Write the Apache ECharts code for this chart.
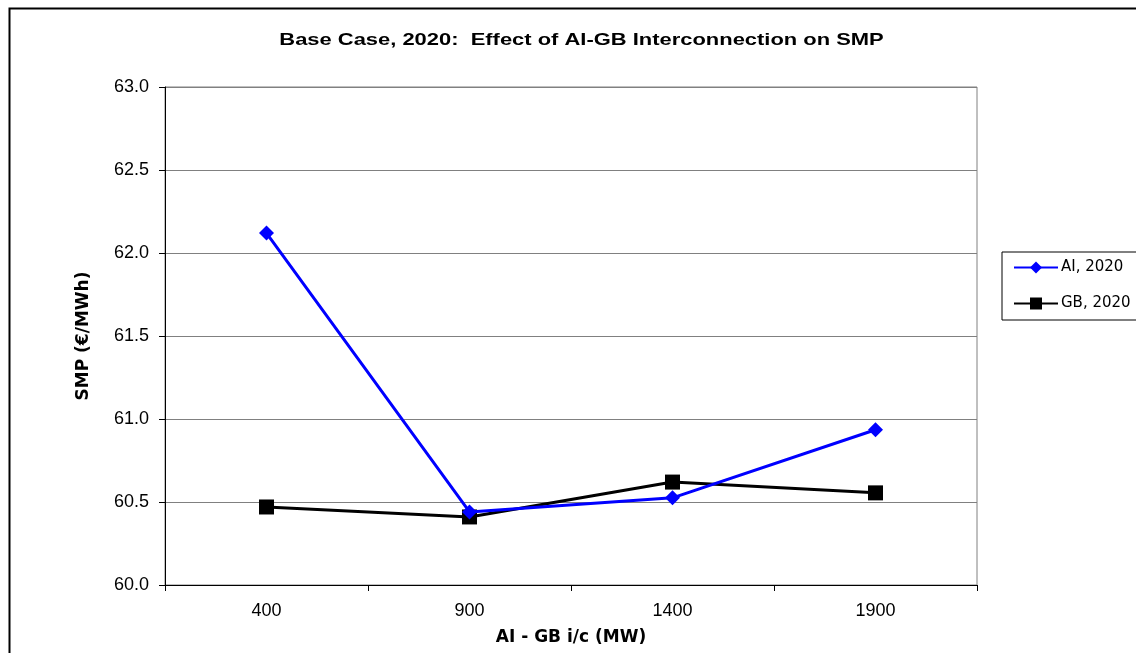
<!DOCTYPE html>
<html><head><meta charset="utf-8">
<script src="https://cdn.jsdelivr.net/npm/echarts@6/dist/echarts.min.js"></script>
<style>html,body{margin:0;padding:0;background:#fff}#c{width:1136px;height:653px}</style>
</head><body><div id="c"></div>
<script>
const categories = ['400', '900', '1400', '1900'];
const aiValues = [62.12, 60.44, 60.525, 60.935];
const gbValues = [60.47, 60.41, 60.62, 60.555];
const seriesNames = ['AI, 2020', 'GB, 2020'];
const titleText = 'Base Case, 2020:  Effect of AI-GB Interconnection on SMP';
const chart = echarts.init(document.getElementById('c'));
const F = '"Liberation Sans", Arial, sans-serif';
const B = '"DejaVu Sans", sans-serif';
chart.setOption({
  backgroundColor: '#fff',
  animation: false,
  textStyle: { fontFamily: F },
  graphic: [
    { type: 'rect', left: 7, top: 6, shape: { width: 1160, height: 680 }, style: { fill: null, stroke: '#000', lineWidth: 2 }, silent: true },
    { type: 'text', x: 581.5, y: 40, scaleX: 1.29, silent: true,
      style: { text: titleText, font: 'bold 17px "Liberation Sans", Arial, sans-serif', fill: '#000', align: 'center', verticalAlign: 'middle' } }
  ],
  legend: {
    left: 1002, top: 252, orient: 'vertical', padding: [8, 30, 9, 11], itemGap: 21,
    borderColor: '#000', borderWidth: 1, backgroundColor: '#fff',
    itemWidth: 44, itemHeight: 15,
    textStyle: { fontFamily: B, fontSize: 15, color: '#000', padding: [0, 0, 0, -2] },
    data: seriesNames
  },
  grid: { left: 165, right: 159, top: 87, bottom: 68, show: true, borderColor: '#808080', borderWidth: 1 },
  xAxis: {
    type: 'category', data: categories, boundaryGap: true,
    name: 'AI - GB i/c (MW)', nameLocation: 'middle', nameGap: 44,
    nameTextStyle: { fontFamily: B, fontSize: 17, fontWeight: 'bold', color: '#000' },
    axisLine: { lineStyle: { color: '#000', width: 1 } },
    axisTick: { show: true, length: 6, inside: false, lineStyle: { color: '#000' } },
    axisLabel: { fontFamily: F, fontSize: 18, color: '#000', margin: 17 }
  },
  yAxis: {
    type: 'value', min: 60, max: 63, interval: 0.5,
    name: 'SMP (€/MWh)', nameLocation: 'middle', nameGap: 73, nameRotate: 90,
    nameTextStyle: { fontFamily: B, fontSize: 17, fontWeight: 'bold', color: '#000' },
    axisLine: { show: true, lineStyle: { color: '#000', width: 1 } },
    axisTick: { show: true, length: 6, lineStyle: { color: '#000' } },
    axisLabel: { fontFamily: F, fontSize: 18, color: '#000', margin: 16, formatter: v => v.toFixed(1) },
    splitLine: { show: true, lineStyle: { color: '#808080', width: 1 } }
  },
  series: [
    { name: seriesNames[0], type: 'line', data: aiValues, symbol: 'diamond', symbolSize: 15,
      lineStyle: { color: '#0000ff', width: 3 }, itemStyle: { color: '#0000ff' }, z: 3 },
    { name: seriesNames[1], type: 'line', data: gbValues, symbol: 'rect', symbolSize: 15,
      lineStyle: { color: '#000', width: 3 }, itemStyle: { color: '#000' }, z: 2 }
  ]
});
</script></body></html>
